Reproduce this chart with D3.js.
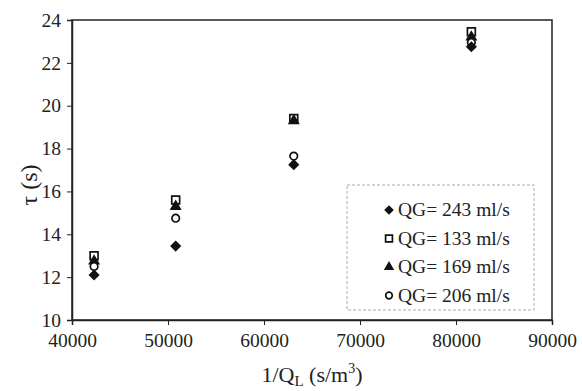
<!DOCTYPE html>
<html><head><meta charset="utf-8">
<script src="https://cdn.jsdelivr.net/npm/d3@7"></script>
<style>body{margin:0;background:#fff;} svg{display:block;}</style>
</head><body>
<script>
const xValues = [42300, 50800, 63100, 81600];
const series = [
  {name: "QG= 243 ml/s", symbol: "diamond", values: [12.1, 13.45, 17.25, 22.75]},
  {name: "QG= 133 ml/s", symbol: "square", values: [13.0, 15.6, 19.4, 23.45]},
  {name: "QG= 169 ml/s", symbol: "triangle", values: [12.75, 15.3, 19.3, 23.2]},
  {name: "QG= 206 ml/s", symbol: "circle", values: [12.5, 14.75, 17.65, 22.95]}
];
const xTicks = [40000, 50000, 60000, 70000, 80000, 90000];
const yTicks = [10, 12, 14, 16, 18, 20, 22, 24];

const W = 582, H = 391;
const m = {l: 72, t: 20, r: 30, b: 71};
const svg = d3.select("body").append("svg").attr("width", W).attr("height", H);
const font = "'Liberation Serif', 'Times New Roman', serif";
const x = d3.scaleLinear().domain([40000, 90000]).range([m.l, W - m.r]);
const y = d3.scaleLinear().domain([10, 24]).range([H - m.b, m.t]);

// frame
svg.append("rect").attr("x", m.l).attr("y", m.t).attr("width", W - m.r - m.l).attr("height", H - m.b - m.t)
  .attr("fill", "none").attr("stroke", "#222").attr("stroke-width", 1.5);

const xa = svg.append("g").attr("transform", `translate(0,${H - m.b})`)
  .call(d3.axisBottom(x).tickValues(xTicks).tickFormat(d3.format("d")).tickSize(5).tickPadding(8));
const ya = svg.append("g").attr("transform", `translate(${m.l},0)`)
  .call(d3.axisLeft(y).tickValues(yTicks).tickSize(5).tickPadding(6));
[xa, ya].forEach(a => {
  a.select(".domain").attr("stroke", "#222").attr("stroke-width", 1.5);
  a.selectAll(".tick line").attr("stroke", "#222");
  a.selectAll("text").attr("font-family", font).attr("font-size", 19.5).attr("fill", "#222");
});

// axis titles
const xt = svg.append("text").attr("x", x(65000)).attr("y", 382).attr("text-anchor", "middle")
  .attr("font-family", font).attr("font-size", 22).attr("fill", "#222");
xt.append("tspan").text("1/Q");
xt.append("tspan").text("L").attr("font-size", 15).attr("dy", 4);
xt.append("tspan").text(" (s/m").attr("dy", -4);
xt.append("tspan").text("3").attr("font-size", 14).attr("dy", -9);
xt.append("tspan").text(")").attr("dy", 9);

svg.append("text").attr("transform", `translate(37,185) rotate(-90)`).attr("text-anchor", "middle")
  .attr("font-family", font).attr("font-size", 24).attr("fill", "#222").text("τ (s)");

function symPath(s, small) {
  const k = small ? 0.75 : 1;
  if (s === "diamond") return d3.symbol().type(d3.symbolSquare).size(62 * k)();
  if (s === "square") return d3.symbol().type(d3.symbolSquare).size(62 * k)();
  if (s === "triangle") return d3.symbol().type(d3.symbolTriangle).size(62 * k)();
  return d3.symbol().type(d3.symbolCircle).size(45 * k)();
}
function styleMark(sel, s) {
  if (s === "square" || s === "circle") sel.attr("fill", "#fff").attr("stroke", "#111").attr("stroke-width", 1.7);
  else sel.attr("fill", "#111").attr("stroke", "none");
}
const rot = s => s === "diamond" ? " rotate(45)" : "";

// draw order: square, triangle, circle, diamond (square underneath)
const order = [1, 2, 3, 0];
order.forEach(i => {
  const s = series[i];
  svg.append("g").selectAll("path").data(s.values).join("path")
    .attr("d", symPath(s.symbol))
    .attr("transform", (d, j) => `translate(${x(xValues[j])},${y(d)})` + rot(s.symbol))
    .call(sel => styleMark(sel, s.symbol));
});

// legend
const lg = svg.append("g");
lg.append("rect").attr("x", 347).attr("y", 185).attr("width", 187).attr("height", 125)
  .attr("fill", "#fff").attr("stroke", "#aaa").attr("stroke-width", 1).attr("stroke-dasharray", "3,2");
series.forEach((s, i) => {
  const yy = 210 + i * 28.5;
  const p = lg.append("path").attr("d", symPath(s.symbol, true))
    .attr("transform", `translate(389,${yy})` + rot(s.symbol));
  styleMark(p, s.symbol);
  lg.append("text").attr("x", 398).attr("y", yy + 6).attr("font-family", font).attr("font-size", 19.5)
    .attr("fill", "#222").text(s.name);
});
</script>
</body></html>
